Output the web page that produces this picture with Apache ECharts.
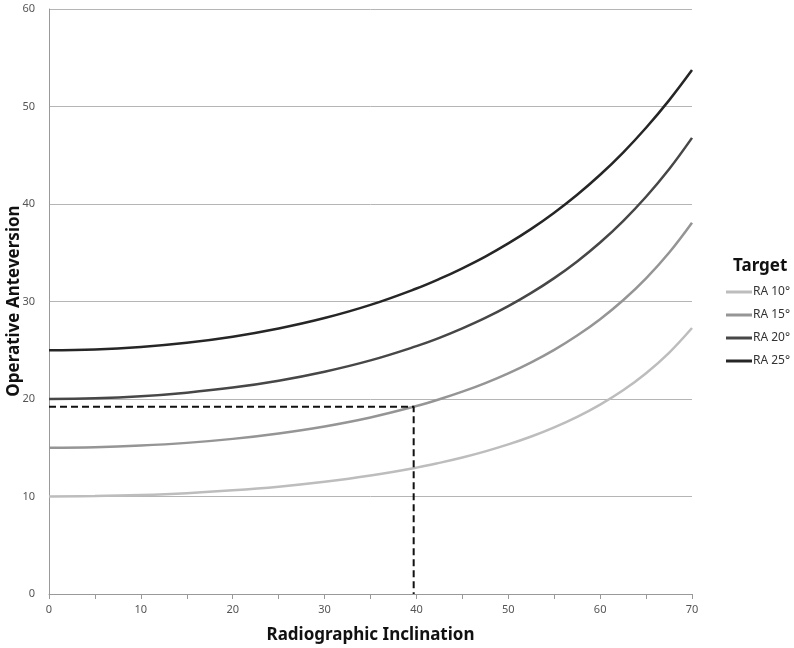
<!DOCTYPE html>
<html>
<head>
<meta charset="utf-8">
<script src="https://cdn.jsdelivr.net/npm/echarts@6/dist/echarts.min.js"></script>
<style>html,body{margin:0;padding:0;background:#fff}#c{width:794px;height:648px}</style>
</head>
<body>
<div id="c"></div>
<script>
const inclination = [0, 5, 10, 15, 20, 25, 30, 35, 40, 42.5, 45, 47.5, 50, 52.5, 55, 57.5, 60, 62.5, 65, 67.5, 70];
const ra10 = [10.0, 10.04, 10.15, 10.34, 10.63, 11.01, 11.51, 12.15, 12.96, 13.45, 14.00, 14.63, 15.34, 16.15, 17.09, 18.17, 19.43, 20.90, 22.65, 24.74, 27.28];
const ra15 = [15.0, 15.05, 15.22, 15.50, 15.91, 16.47, 17.19, 18.11, 19.28, 19.97, 20.75, 21.63, 22.63, 23.76, 25.04, 26.51, 28.19, 30.13, 32.38, 35.00, 38.08];
const ra20 = [20.0, 20.07, 20.28, 20.65, 21.17, 21.88, 22.80, 23.96, 25.42, 26.27, 27.24, 28.31, 29.52, 30.88, 32.40, 34.11, 36.05, 38.25, 40.74, 43.56, 46.78];
const ra25 = [25.0, 25.08, 25.34, 25.77, 26.39, 27.23, 28.30, 29.65, 31.33, 32.31, 33.41, 34.61, 35.96, 37.45, 39.11, 40.95, 43.00, 45.28, 47.82, 50.63, 53.74];
const seriesNames = ['RA 10°', 'RA 15°', 'RA 20°', 'RA 25°'];
const guideX = [0, 39.7, 39.7];
const guideY = [19.2, 19.2, 0];
const yTicks = [0, 10, 20, 30, 40, 50, 60];

const font = 'Noto Sans';
const colors = ['#bdbdbd', '#959595', '#474747', '#262626'];
const all = [ra10, ra15, ra20, ra25];

const chart = echarts.init(document.getElementById('c'));
const series = all.map((vals, i) => ({
  name: seriesNames[i],
  type: 'line',
  smooth: 0.4,
  symbol: 'none',
  data: inclination.map((x, j) => [x, vals[j]]),
  lineStyle: { color: colors[i], width: 2.5 },
  itemStyle: { color: colors[i] },
  z: 3
}));
series.push({
  name: 'guide',
  type: 'line',
  symbol: 'none',
  data: guideX.map((x, j) => [x, guideY[j]]),
  lineStyle: { color: '#111', width: 2, type: [7, 4] },
  z: 4
});

chart.setOption({
  animation: false,
  backgroundColor: '#fff',
  grid: { left: 49, right: 102, top: 9, bottom: 54, containLabel: false, outerBoundsMode: 'none' },
  title: {
    text: 'Target', left: 728, top: 253,
    textStyle: { fontFamily: font, fontSize: 17, fontWeight: 'bold', color: '#111' }
  },
  graphic: [{
    type: 'text',
    x: 14, y: 301,
    rotation: Math.PI / 2,
    style: {
      text: 'Operative Anteversion',
      font: 'bold 17px "Noto Sans"',
      fill: '#111',
      textAlign: 'center',
      textVerticalAlign: 'middle'
    }
  }],
  legend: {
    data: seriesNames,
    orient: 'vertical',
    left: 721, top: 281,
    itemWidth: 26, itemHeight: 3, itemGap: 11,
    icon: 'rect',
    textStyle: { fontFamily: font, fontSize: 12, color: '#333', padding: [0, 0, 0, -4] }
  },
  xAxis: {
    type: 'value', min: 0, max: 70, interval: 5,
    name: 'Radiographic Inclination', nameLocation: 'middle', nameGap: 33,
    nameTextStyle: { fontFamily: font, fontSize: 17, fontWeight: 'bold', color: '#111' },
    axisLine: { show: true, lineStyle: { color: '#999', width: 1 } },
    axisTick: { show: true, length: 5, lineStyle: { color: '#999' } },
    axisLabel: {
      fontFamily: font, fontSize: 11, color: '#555', margin: 10,
      formatter: v => (v % 10 === 0 ? String(v) : '')
    },
    splitLine: { show: false }
  },
  yAxis: {
    type: 'value', min: yTicks[0], max: yTicks[yTicks.length - 1], interval: 10,
    axisLine: { show: true, lineStyle: { color: '#999', width: 1 } },
    axisTick: { show: false },
    axisLabel: { fontFamily: font, fontSize: 11, color: '#555', margin: 14 },
    splitLine: { show: true, lineStyle: { color: '#b5b5b5', width: 1 } }
  },
  series: series
});
</script>
</body>
</html>
